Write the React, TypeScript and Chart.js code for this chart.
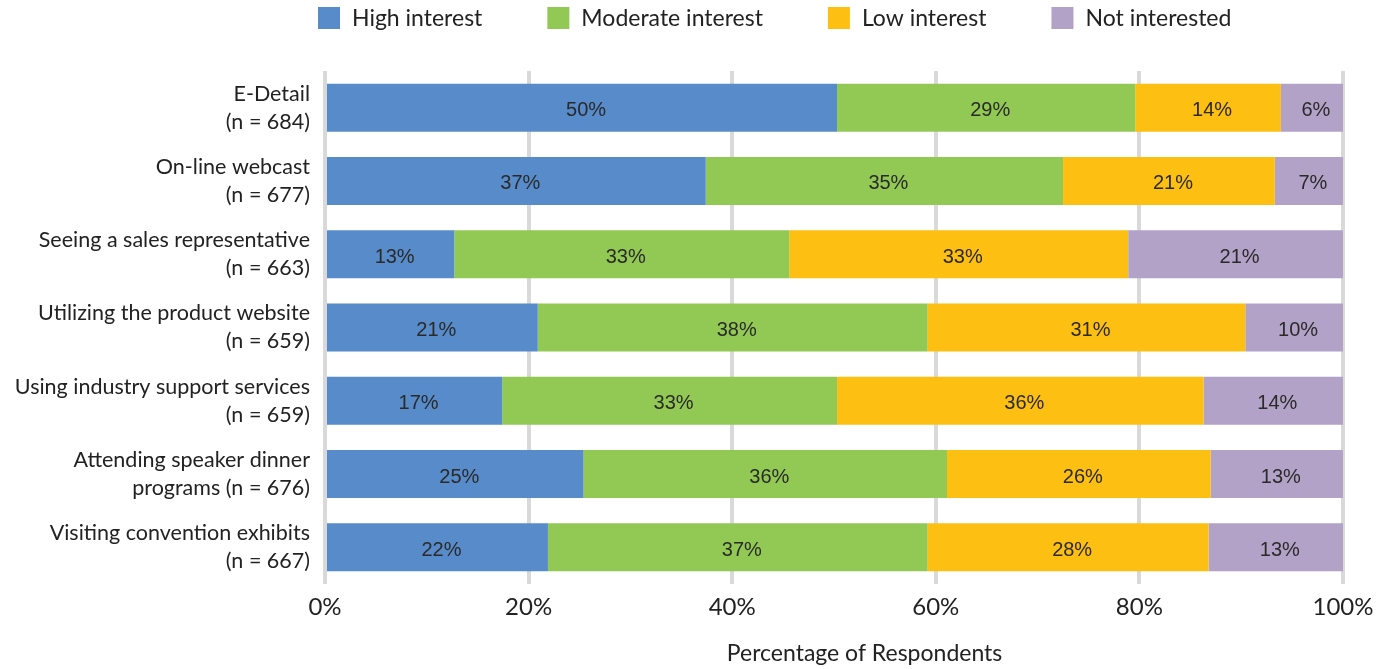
import { useEffect, useRef } from "react";
import { Chart, registerables } from "chart.js";

Chart.register(...registerables);

const categories: string[][] = [
  ["E-Detail", "(n = 684)"],
  ["On-line webcast", "(n = 677)"],
  ["Seeing a sales representative", "(n = 663)"],
  ["Utilizing the product website", "(n = 659)"],
  ["Using industry support services", "(n = 659)"],
  ["Attending speaker dinner", "programs (n = 676)"],
  ["Visiting convention exhibits", "(n = 667)"],
];
const highInterest = [50.3, 37.4, 12.7, 20.9, 17.4, 25.4, 21.9];
const moderateInterest = [29.3, 35.1, 32.9, 38.3, 32.9, 35.7, 37.3];
const lowInterest = [14.3, 20.8, 33.3, 31.2, 36.0, 25.9, 27.6];
const notInterested = [6.1, 6.7, 21.1, 9.6, 13.7, 13.0, 13.2];
const seriesNames = ["High interest", "Moderate interest", "Low interest", "Not interested"];
const seriesColors = ["#578BC9", "#92C954", "#FDBF12", "#B2A2C7"];
const xTickValues = [0, 20, 40, 60, 80, 100];
const axisTitle = "Percentage of Respondents";

const AXIS_FONT = "Lato, 'Noto Sans', sans-serif";
const LABEL_FONT = "'Liberation Sans', Arial, sans-serif";

const legendPlugin = {
  id: "customLegend",
  afterDraw(chart: any) {
    const ctx = chart.ctx;
    const area = chart.chartArea;
    ctx.save();
    ctx.font = `23px ${AXIS_FONT}`;
    ctx.textBaseline = "middle";
    ctx.textAlign = "left";
    let x = area.left - 7;
    const cy = 18;
    chart.data.datasets.forEach((ds: any) => {
      ctx.fillStyle = ds.backgroundColor;
      ctx.fillRect(x, cy - 11, 22, 22);
      ctx.fillStyle = "#222";
      ctx.fillText(ds.label, x + 34, cy + 1);
      x += 34 + ctx.measureText(ds.label).width + 65;
    });
    ctx.restore();
  },
};

const barLabelPlugin = {
  id: "barLabels",
  afterDatasetsDraw(chart: any) {
    const ctx = chart.ctx;
    ctx.save();
    ctx.font = `20px ${LABEL_FONT}`;
    ctx.fillStyle = "#2a2a2a";
    ctx.textAlign = "center";
    ctx.textBaseline = "middle";
    chart.data.datasets.forEach((ds: any, di: number) => {
      const meta = chart.getDatasetMeta(di);
      meta.data.forEach((bar: any, i: number) => {
        const v = ds.data[i];
        const cx = (bar.x + bar.base) / 2 + 4;
        ctx.fillText(`${Math.round(v)}%`, cx, bar.y + 3);
      });
    });
    ctx.restore();
  },
};

const axisTitlePlugin = {
  id: "axisTitle",
  afterDraw(chart: any) {
    const ctx = chart.ctx;
    const area = chart.chartArea;
    ctx.save();
    ctx.font = `23px ${AXIS_FONT}`;
    ctx.fillStyle = "#222";
    ctx.textAlign = "center";
    ctx.textBaseline = "middle";
    ctx.fillText(axisTitle, area.left + (area.right - area.left) * 0.53, 654);
    ctx.restore();
  },
};

export default function App() {
  const canvasRef = useRef<HTMLCanvasElement | null>(null);

  useEffect(() => {
    if (!canvasRef.current) return;
    const seriesData = [highInterest, moderateInterest, lowInterest, notInterested];
    const chart = new Chart(canvasRef.current, {
      type: "bar",
      data: {
        labels: categories,
        datasets: seriesData.map((d, i) => ({
          label: seriesNames[i],
          data: d,
          backgroundColor: seriesColors[i],
          borderWidth: 0,
          categoryPercentage: 1,
          barPercentage: 0.655,
        })),
      },
      options: {
        indexAxis: "y",
        animation: false,
        responsive: true,
        maintainAspectRatio: false,
        layout: { padding: { top: 71, right: 57, left: 0, bottom: 0 } },
        plugins: {
          legend: { display: false },
          tooltip: { enabled: false },
        },
        scales: {
          x: {
            stacked: true,
            min: 0,
            max: 100,
            afterBuildTicks(scale: any) {
              scale.ticks = xTickValues.map((v) => ({ value: v }));
            },
            afterFit(scale: any) {
              scale.height = 85;
            },
            ticks: {
              callback: (v: any) => `${v}%`,
              font: { family: AXIS_FONT, size: 24 },
              color: "#222",
              padding: 9,
              maxRotation: 0,
            },
            grid: {
              color: "#D9D9D9",
              lineWidth: 4,
              drawTicks: false,
            },
            border: { display: false },
          },
          y: {
            stacked: true,
            afterFit(scale: any) {
              scale.width = 325;
            },
            ticks: {
              font: { family: AXIS_FONT, size: 21.5, lineHeight: 1.3 },
              color: "#222",
              padding: 15,
              crossAlign: "near",
            },
            grid: { display: false, drawTicks: false },
            border: { display: false },
          },
        },
      },
      plugins: [legendPlugin, barLabelPlugin, axisTitlePlugin],
    });
    return () => chart.destroy();
  }, []);

  return (
    <div style={{ position: "fixed", left: 0, top: 0, width: 1400, height: 669, background: "#fff" }}>
      <canvas ref={canvasRef} />
    </div>
  );
}
